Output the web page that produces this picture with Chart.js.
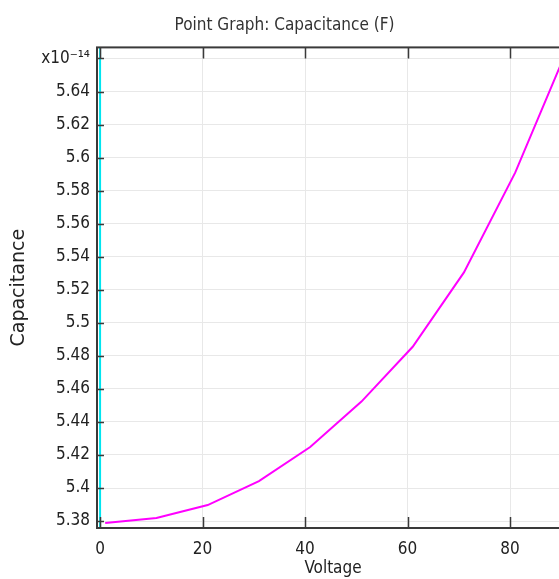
<!DOCTYPE html>
<html>
<head>
<meta charset="utf-8">
<script src="https://cdn.jsdelivr.net/npm/chart.js@4/dist/chart.umd.min.js"></script>
<style>
  html, body { margin: 0; padding: 0; background: #fff; overflow: hidden; }
  canvas { display: block; }
</style>
</head>
<body>
<canvas id="chart" width="588" height="579"></canvas>
<script>
// Data (capacitance in units of 1e-14 F)
const voltage = [1, 11, 21, 31, 41, 51, 61, 71, 81, 91];
const capacitance = [5.3788, 5.3818, 5.3897, 5.4042, 5.4248, 5.4523, 5.4855, 5.5305, 5.5909, 5.6645];

// vertical marker at V = 0
const markerX = [0, 0];
const markerY = [5.3758, 5.6667];

const xTicks = [0, 20, 40, 60, 80];
const yTicks = [5.38, 5.40, 5.42, 5.44, 5.46, 5.48, 5.50, 5.52, 5.54, 5.56, 5.58, 5.60, 5.62, 5.64, 5.66];
const yTickLabels = ['5.38', '5.4', '5.42', '5.44', '5.46', '5.48', '5.5', '5.52', '5.54', '5.56', '5.58', '5.6', '5.62', '5.64', 'x10\u207B\u00B9\u2074'];

const labelFont = "'DejaVu Sans Condensed', 'DejaVu Sans', sans-serif";

// frame + inward tick marks
const frameTicks = {
    id: 'frameTicks',
    afterDatasetsDraw(chart) {
        const { ctx, chartArea: a, scales: { x, y } } = chart;
        ctx.save();
        ctx.strokeStyle = '#3a3a3a';
        ctx.lineWidth = 2;
        ctx.strokeRect(a.left, a.top, a.right - a.left, a.bottom - a.top);
        ctx.lineWidth = 1.5;
        ctx.beginPath();
        x.ticks.forEach(t => {
            const px = Math.round(x.getPixelForValue(t.value)) + 0.5;
            ctx.moveTo(px, a.bottom); ctx.lineTo(px, a.bottom - 11);
            ctx.moveTo(px, a.top); ctx.lineTo(px, a.top + 11);
        });
        y.ticks.forEach(t => {
            const py = Math.round(y.getPixelForValue(t.value)) + 0.5;
            ctx.moveTo(a.left, py); ctx.lineTo(a.left + 7, py);
            ctx.moveTo(a.right, py); ctx.lineTo(a.right - 7, py);
        });
        ctx.stroke();
        ctx.restore();
    }
};

new Chart(document.getElementById('chart'), {
    type: 'line',
    data: {
        datasets: [
            {
                data: voltage.map((v, i) => ({ x: v, y: capacitance[i] })),
                borderColor: '#ff00ff',
                borderWidth: 2,
                pointRadius: 0,
                tension: 0
            },
            {
                data: markerX.map((v, i) => ({ x: v, y: markerY[i] })),
                borderColor: '#00e5f0',
                borderWidth: 2,
                pointRadius: 0
            }
        ]
    },
    options: {
        responsive: false,
        animation: false,
        layout: { padding: { left: 0, right: 19, top: 0, bottom: 0 } },
        plugins: {
            legend: { display: false },
            tooltip: { enabled: false },
            title: {
                display: true,
                text: 'Point Graph: Capacitance (F)',
                color: '#333',
                font: { family: labelFont, size: 17, weight: 'normal' },
                padding: { top: 15, bottom: 12 }
            }
        },
        scales: {
            x: {
                type: 'linear',
                min: -0.6,
                max: 91.5,
                afterBuildTicks: s => { s.ticks = xTicks.map(v => ({ value: v })); },
                afterFit: s => { s.height = 51; },
                grid: { color: '#e8e8e8', drawTicks: false },
                border: { display: false },
                ticks: { color: '#222', padding: 11, maxRotation: 0, font: { family: labelFont, size: 17 } },
                title: {
                    display: true,
                    text: 'Voltage',
                    color: '#222',
                    font: { family: labelFont, size: 17 },
                    padding: { top: -3, bottom: 0 }
                }
            },
            y: {
                type: 'linear',
                min: 5.3758,
                max: 5.6667,
                afterBuildTicks: s => { s.ticks = yTicks.map(v => ({ value: v })); },
                afterFit: s => { s.width = 97; },
                grid: { color: '#e8e8e8', drawTicks: false },
                border: { display: false },
                ticks: {
                    color: '#222',
                    padding: 7,
                    font: { family: labelFont, size: 17 },
                    callback: (value, index) => yTickLabels[index]
                },
                title: {
                    display: true,
                    text: 'Capacitance',
                    color: '#222',
                    font: { family: "'DejaVu Sans', sans-serif", size: 19 },
                    padding: { top: 8, bottom: 0 }
                }
            }
        }
    },
    plugins: [frameTicks]
});
</script>
</body>
</html>
